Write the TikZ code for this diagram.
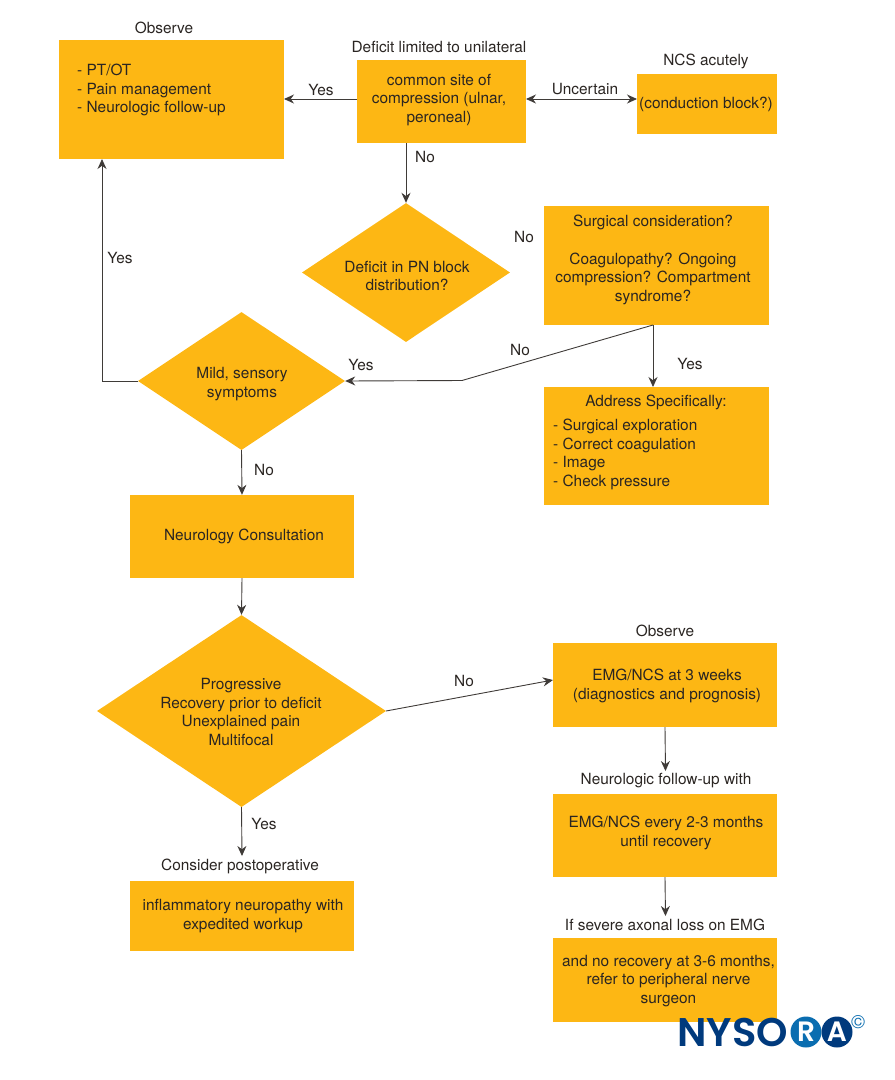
\documentclass[tikz,border=0pt]{standalone}
\usepackage{fontspec}
\setmainfont{TeX Gyre Heros}
\newfontfamily\logofont{Poppins}[UprightFont=* SemiBold]
\usetikzlibrary{shapes.geometric,arrows.meta}
\definecolor{boxfill}{HTML}{FDB714}
\definecolor{inktext}{HTML}{2A2522}
\definecolor{navy}{HTML}{003A7D}
\definecolor{midblue}{HTML}{0A6DB0}
\tikzset{
  base/.style={font=\fontsize{15.4}{18.6}\selectfont,text=inktext},
  txt/.style={base,inner sep=0pt,align=center},
  ltxt/.style={base,inner sep=0pt,align=left},
  boxn/.style={base,fill=boxfill,inner sep=0pt,align=center,minimum width=#1},
  dia/.style n args={2}{base,diamond,fill=boxfill,inner sep=0pt,aspect=1.5,align=center,minimum width=#1,minimum height=#2},
  conn/.style={draw=inktext!90,line width=0.9pt,-{Stealth[length=10pt,width=9pt]}},
  bothconn/.style={draw=inktext!90,line width=0.9pt,{Stealth[length=10pt,width=9pt]}-{Stealth[length=10pt,width=9pt]}},
}
\begin{document}
\begin{tikzpicture}[x=1pt,y=-1pt]
\useasboundingbox (0,0) rectangle (895,1080);
% boxes
\node[boxn=225pt,minimum height=119pt] (obs) at (171.5,99.5) {};
\node[boxn=169pt,minimum height=83pt] (common) at (441.5,101.5) {};
\node[boxn=140pt,minimum height=60pt] (ncs) at (707,104) {};
\node[dia={208pt}{139pt}] (pn) at (406,272.5) {};
\node[boxn=225pt,minimum height=119pt] (surg) at (656.5,265.5) {};
\node[boxn=225pt,minimum height=118pt] (addr) at (656.5,446) {};
\node[dia={207pt}{138pt}] (mild) at (241.5,381) {};
\node[boxn=224pt,minimum height=83pt] (neuro) at (242,536.5) {};
\node[dia={289pt}{192pt}] (prog) at (241.5,711) {};
\node[boxn=224pt,minimum height=84pt] (emga) at (665,685) {};
\node[boxn=224pt,minimum height=83pt] (emgb) at (665,835.5) {};
\node[boxn=224pt,minimum height=84pt] (emgc) at (665,980) {};
\node[boxn=224pt,minimum height=70pt] (infl) at (242,916) {};
% box texts
\node[ltxt,anchor=west] (obst) at (77,90) {- PT/OT\\- Pain management\\- Neurologic follow-up};
\node[txt] (commont) at (439,100) {common site of\\compression (ulnar,\\peroneal)};
\node[txt] (ncst) at (706,104) {(conduction block?)};
\node[txt] (pnt) at (407,276) {Deficit in PN block\\distribution?};
\node[txt] (surgt) at (653,260) {Surgical consideration?\\[18.6pt]Coagulopathy? Ongoing\\compression? Compartment\\syndrome?};
\node[txt] (addrh) at (656,402) {Address Specifically:};
\node[ltxt,anchor=north west] (addrt) at (553,419) {- Surgical exploration\\- Correct coagulation\\- Image\\- Check pressure};
\node[txt] (mildt) at (242,384) {Mild, sensory\\symptoms};
\node[txt] (neurot) at (244,536) {Neurology Consultation};
\node[txt] (progt) at (241,712) {Progressive\\Recovery prior to deficit\\Unexplained pain\\Multifocal};
\node[txt] (emgat) at (667,686) {EMG/NCS at 3 weeks\\(diagnostics and prognosis)};
\node[txt] (emgbt) at (666,833) {EMG/NCS every 2-3 months\\until recovery};
\node[txt] (emgct) at (668.5,981) {and no recovery at 3-6 months,\\refer to peripheral nerve\\surgeon};
\node[txt] (inflt) at (243,916) {inflammatory neuropathy with\\expedited workup};
% captions
\node[txt] (c1) at (164,28) {Observe};
\node[txt] (c2) at (439,47) {Deficit limited to unilateral};
\node[txt] (c3) at (706,61) {NCS acutely};
\node[txt] (c4) at (665,631) {Observe};
\node[txt] (c5) at (666,781) {Neurologic follow-up with};
\node[txt] (c6) at (665,925) {If severe axonal loss on EMG};
\node[txt] (c7) at (240,866) {Consider postoperative};
% connectors
\coordinate (cs) at (406,143);
\coordinate (ss) at (653,325);
\coordinate (sa) at (653,387);
\coordinate (bend) at (462,380.5);
\coordinate (mleft) at (138,381);
\coordinate (oup) at (102,159);
\coordinate (elbow) at (102,381);
\coordinate (oleft) at (284,99);
\coordinate (cleft) at (357,99);
\coordinate (cright) at (526,99);
\coordinate (nleft) at (637,99);
\coordinate (eleft) at (553,680);
\coordinate (pright) at (386,711);
\coordinate (c5top) at (665.5,771);
\coordinate (c6top) at (665.5,916);
\coordinate (c7top) at (242,856);
\draw[conn] (cleft) -- (oleft);
\draw[bothconn] (cright) -- (nleft);
\draw[conn] (cs) -- (pn.north);
\draw[conn] (ss) -- (bend) -- (mild.east);
\draw[conn] (ss) -- (sa);
\draw[conn] (mleft) -- (elbow) -- (oup);
\draw[conn] (mild.south) -- (neuro.north);
\draw[conn] (neuro.south) -- (prog.north);
\draw[conn] (pright) -- (eleft);
\draw[conn] (prog.south) -- (c7top);
\draw[conn] (emga.south) -- (c5top);
\draw[conn] (emgb.south) -- (c6top);
% edge labels
\node[txt] (l1) at (321,90) {Yes};
\node[txt] (l2) at (585,89) {Uncertain};
\node[txt] (l3) at (425,157) {No};
\node[txt] (l4) at (524,237) {No};
\node[txt] (l5) at (120,258) {Yes};
\node[txt] (l6) at (361,365) {Yes};
\node[txt] (l7) at (520,350) {No};
\node[txt] (l8) at (690,364) {Yes};
\node[txt] (l9) at (264,470) {No};
\node[txt] (l10) at (464,681) {No};
\node[txt] (l11) at (264,824) {Yes};
% logo
\node[inner sep=0pt,anchor=west,text=navy,font=\logofont\fontsize{40}{40}\selectfont] (logo) at (677,1032) {NYSO};
\node[circle,fill=midblue,minimum size=31pt,inner sep=0pt,text=white,font=\logofont\fontsize{28}{28}\selectfont] (logor) at (806,1032) {R};
\node[circle,fill=navy,minimum size=31pt,inner sep=0pt,text=white,font=\logofont\fontsize{28}{28}\selectfont] (logoa) at (837,1032) {A};
\node[inner sep=0pt,text=midblue,font=\fontsize{19}{19}\selectfont] (logoc) at (858,1022) {©};
\end{tikzpicture}
\end{document}
